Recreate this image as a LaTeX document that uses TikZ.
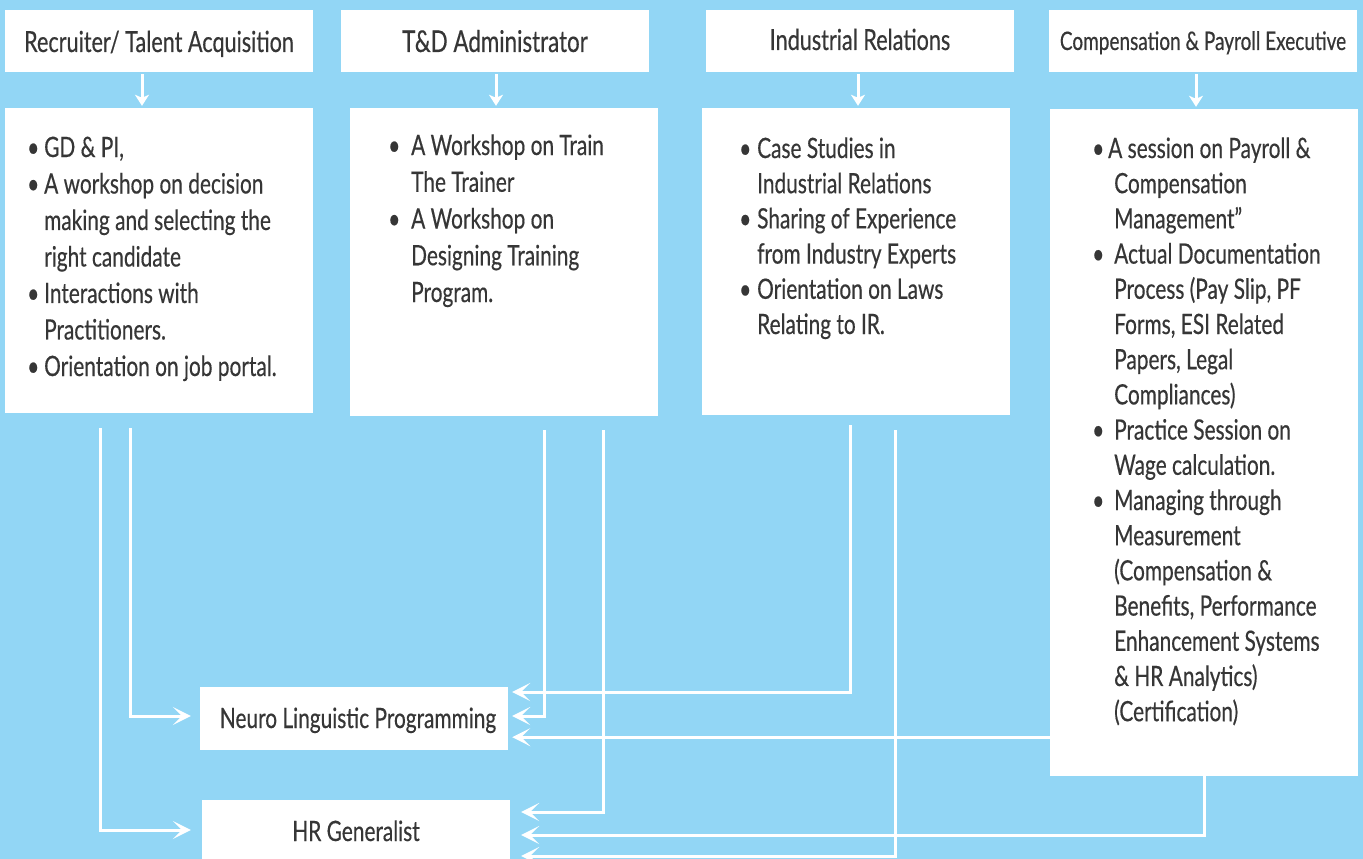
\documentclass[tikz,border=0pt]{standalone}
\usepackage{fontspec}
\setmainfont{Lato}[FakeStretch=0.745, FakeBold=0.4]
\usetikzlibrary{arrows.meta,positioning}
\definecolor{skyback}{HTML}{92D6F5}
\definecolor{inkgray}{HTML}{363636}
\newcommand{\dotitem}[1]{\makebox[#1][l]{\textbullet}}
\newcommand{\indentby}[1]{\hspace*{#1}}
\newcommand{\itemcol}[1]{\begin{tabular}[t]{@{}l@{}}#1\end{tabular}}

\begin{document}
\begin{tikzpicture}[x=1pt,y=-1pt,
		head/.style={fill=white, text=inkgray, inner sep=0pt, minimum width=308pt, minimum height=62pt, text height=22pt, text depth=0pt, font=\fontsize{29}{34}\selectfont},
		card/.style={fill=white, inner sep=0pt, minimum width=308pt},
		list/.style={text=inkgray, inner sep=0pt, anchor=base west, font=\fontsize{28}{#1}\selectfont},
		drop/.style={draw=white, line width=3pt, shorten <=2pt, shorten >=2pt, -{Stealth[length=11pt,width=14pt,inset=3pt]}},
		link/.style={draw=white, line width=3pt, -{Stealth[length=18pt,width=18pt,inset=9pt]}}]
		
		\clip (0,0) rectangle (1363,859);
		\fill[skyback] (0,0) rectangle (1363,859);
		
		% heads
		\node[head] (h1) at (159,41) {Recruiter/ Talent Acquisition};
		\node[head, font=\fontsize{30}{34}\selectfont] (h2) at (495,41) {T\&D Administrator};
		\node[head, text height=18pt] (h3) at (860,41) {Industrial Relations};
		\node[head, text height=18pt, font=\fontsize{25.5}{30}\selectfont] (h4) at (1203,41) {Compensation \& Payroll Executive};
		
		% cards
		\node[card, minimum height=305pt] (b1) at (159,260.5) {};
		\node[card, minimum height=308pt] (b2) at (504,262) {};
		\node[card, minimum height=307pt] (b3) at (856,261.5) {};
		\node[card, minimum height=667pt] (b4) at (1204,442.5) {};
		
		\node[list=36.5pt] (l1) at (27,157) {\itemcol{\dotitem{17pt}GD \& PI,\\
			\dotitem{17pt}A workshop on decision\\
			\indentby{17pt}making and selecting the\\
			\indentby{17pt}right candidate\\
			\dotitem{17pt}Interactions with\\
			\indentby{17pt}Practitioners.\\
			\dotitem{17pt}Orientation on job portal.}};
		\node[list=36.75pt] (l2) at (388,155) {\itemcol{\dotitem{23pt}A Workshop on Train\\
			\indentby{23pt}The Trainer\\
			\dotitem{23pt}A Workshop on\\
			\indentby{23pt}Designing Training\\
			\indentby{23pt}Program.}};
		\node[list=35.2pt] (l3) at (739,158) {\itemcol{\dotitem{18pt}Case Studies in\\
			\indentby{18pt}Industrial Relations\\
			\dotitem{18pt}Sharing of Experience\\
			\indentby{18pt}from Industry Experts\\
			\dotitem{18pt}Orientation on Laws\\
			\indentby{18pt}Relating to IR.}};
		\node[list=35.2pt] (l4) at (1092,158) {\itemcol{\dotitem{16pt}A session on Payroll \&\\
			\indentby{22pt}Compensation\\
			\indentby{22pt}Management”\\
			\dotitem{22pt}Actual Documentation\\
			\indentby{22pt}Process (Pay Slip, PF\\
			\indentby{22pt}Forms, ESI Related\\
			\indentby{22pt}Papers, Legal\\
			\indentby{22pt}Compliances)\\
			\dotitem{22pt}Practice Session on\\
			\indentby{22pt}Wage calculation.\\
			\dotitem{22pt}Managing through\\
			\indentby{22pt}Measurement\\
			\indentby{22pt}(Compensation \&\\
			\indentby{22pt}Benefits, Performance\\
			\indentby{22pt}Enhancement Systems\\
			\indentby{22pt}\& HR Analytics)\\
			\indentby{22pt}(Certification)}};
		
		% outcomes
		\node[head, minimum height=63pt, text height=20pt, font=\fontsize{28}{32}\selectfont] (nlp) at (354,718) {\hspace*{8pt}Neuro Linguistic Programming};
		\node[head, minimum height=62pt, text height=20pt, font=\fontsize{28}{32}\selectfont] (hrg) at (356,831) {HR Generalist};
		
		\draw[drop] ([xshift=-17pt]h1.south) -- ([xshift=-17pt]h1.south |- b1.north);
		\draw[drop] ([xshift=1pt]h2.south) -- ([xshift=1pt]h2.south |- b2.north);
		\draw[drop] ([xshift=-2pt]h3.south) -- ([xshift=-2pt]h3.south |- b3.north);
		\draw[drop] ([xshift=-7pt]h4.south) -- ([xshift=-7pt]h4.south |- b4.north);
		
		\coordinate (s11) at ([xshift=126pt,yshift=-15pt]b1.south west);
		\coordinate (s12) at ([xshift=96pt,yshift=-15pt]b1.south west);
		\coordinate (s21) at ([xshift=195pt,yshift=-14pt]b2.south west);
		\coordinate (s22) at ([xshift=254pt,yshift=-14pt]b2.south west);
		\coordinate (s31) at ([xshift=149pt,yshift=-10pt]b3.south west);
		\coordinate (s32) at ([xshift=194pt,yshift=-15pt]b3.south west);
		\coordinate (s41) at ([yshift=39pt]b4.south west);
		\coordinate (s42) at ([xshift=155pt]b4.south west);
		
		\draw[link, shorten >=9pt] (s11) |- ([yshift=2pt]nlp.west);
		\draw[link, shorten >=11pt] (s12) |- ([yshift=1pt]hrg.west);
		\draw[link, shorten >=4pt] (s21) |- ([yshift=2pt]nlp.east);
		\draw[link, shorten >=4pt] (s31) |- ([yshift=26pt]nlp.east);
		\draw[link, shorten >=4pt] (s41) -- (s41 -| nlp.east);
		\draw[link, shorten >=11pt] (s22) |- ([yshift=19pt]hrg.east);
		\draw[link, shorten >=11pt] (s42) |- ([yshift=-4pt]hrg.east);
		\draw[link, shorten >=11pt] (s32) |- ([yshift=-25pt]hrg.east);
		
	\end{tikzpicture}
\end{document}
